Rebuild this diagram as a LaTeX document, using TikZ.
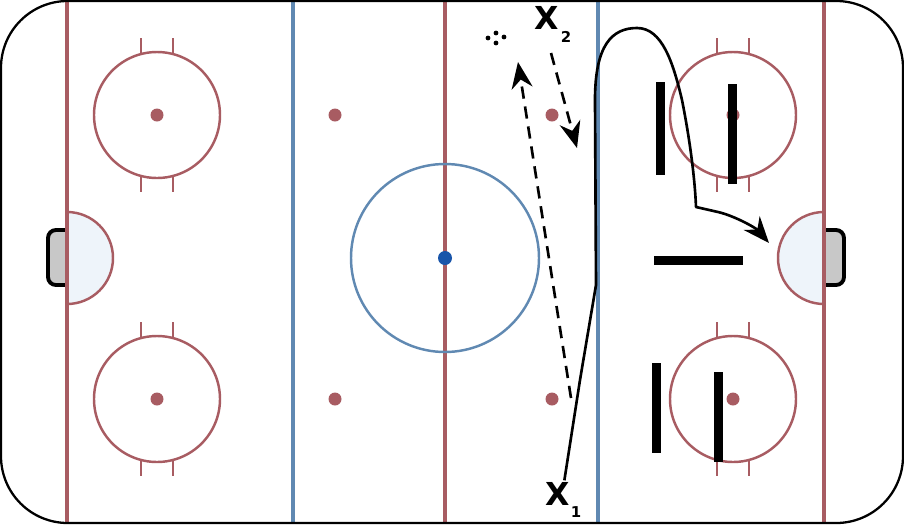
\documentclass[tikz,border=0pt]{standalone}
\usepackage{fontspec}
\newfontfamily\markfont{DejaVu Sans}
\usetikzlibrary{arrows.meta}

\definecolor{rinkred}{RGB}{168,92,98}
\definecolor{rinkblue}{RGB}{96,137,178}
\definecolor{dotblue}{RGB}{25,85,170}
\definecolor{creasefill}{RGB}{238,244,250}
\definecolor{netgray}{RGB}{200,200,200}

\tikzset{
  redline/.style={draw=rinkred, line width=2.3pt},
  blueline/.style={draw=rinkblue, line width=2.3pt},
  faceoff/.style={draw=rinkred, line width=1.4pt},
  crease/.style={draw=rinkred, line width=1.4pt, fill=creasefill},
  net/.style={draw=black, line width=2.2pt, fill=netgray, rounded corners=4.5pt},
  bar/.style={fill=black},
  player/.style={font=\markfont\bfseries\fontsize{18}{19}\selectfont, inner sep=1pt},
  num/.style={font=\markfont\bfseries\fontsize{8.5}{9}\selectfont, inner sep=0pt},
  pass/.style={line width=1.5pt, dash pattern=on 7pt off 4.5pt, -{Stealth[length=15pt,width=12pt]}},
  skate/.style={line width=1.5pt, line join=round, -{Stealth[length=15pt,width=12pt]}}
}

\begin{document}
\begin{tikzpicture}[x=0.02cm, y=-0.02cm]
  \useasboundingbox (0,0) rectangle (904,525);

  % Goal creases and nets
  \filldraw[crease] (67,212) arc[start angle=-90, end angle=90, radius=46] -- cycle;
  \filldraw[crease] (824,304) arc[start angle=90, end angle=270, radius=46] -- cycle;
  \filldraw[net] (67,230) -- (48,230) -- (48,285) -- (67,285);
  \filldraw[net] (824,230) -- (844,230) -- (844,285) -- (824,285);

  % Rink lines
  \begin{scope}
    \clip[rounded corners=38pt] (1,1) rectangle (903,523);
    \draw[redline] (67,0) -- (67,525);
    \draw[redline] (824,0) -- (824,525);
    \draw[redline] (445,0) -- (445,525);
    \draw[blueline] (293,0) -- (293,525);
    \draw[blueline] (598,0) -- (598,525);
  \end{scope}

  % Center circle
  \draw[blueline, line width=1.4pt] (445,258) circle[radius=94];
  \fill[dotblue] (445,258) circle[radius=7];

  % Faceoff circles
  \foreach \cx/\cy in {157/115, 157/399, 733/115, 733/399}{
    \draw[faceoff] (\cx,\cy) circle[radius=63];
    \draw[faceoff] (\cx-16,\cy-61) -- (\cx-16,\cy-77) (\cx+16,\cy-61) -- (\cx+16,\cy-77);
    \draw[faceoff] (\cx-16,\cy+61) -- (\cx-16,\cy+77) (\cx+16,\cy+61) -- (\cx+16,\cy+77);
    \fill[rinkred] (\cx,\cy) circle[radius=6.5];
  }

  % Neutral zone spots
  \foreach \cx/\cy in {335/115, 552/115, 335/399, 552/399}
    \fill[rinkred] (\cx,\cy) circle[radius=6.5];

  % Rink outline
  \draw[line width=1.3pt, rounded corners=38pt] (1,1) rectangle (903,523);

  % Obstacles
  \fill[bar] (656,82) rectangle (665,175);
  \fill[bar] (728,84) rectangle (737,184);
  \fill[bar] (654,256) rectangle (743,265);
  \fill[bar] (652,363) rectangle (661,453);
  \fill[bar] (714,372) rectangle (723,462);

  % Players and puck
  \node[player] (x2) at (547,18) {X};
  \node[num] (x2n) at (566,37) {2};
  \node[player] (x1) at (558,494) {X};
  \node[num] (x1n) at (576,512) {1};
  \foreach \px/\py in {488/38, 496/33, 496/43, 504/37}
    \fill (\px,\py) circle[radius=2.4];

  % Passes
  \coordinate (pa) at (571,398);
  \coordinate (pb) at (518,62);
  \coordinate (pc) at (551,53);
  \coordinate (pd) at (577,148);
  \draw[pass] (pa) -- (pb);
  \draw[pass] (pc) -- (pd);

  % Skating route
  \coordinate (net2) at (769,243);
  \draw[skate] (x1.65) -- (580,380) -- (596,285) -- (595,100)
    .. controls (595,45) and (612,28) .. (637,28)
    .. controls (662,28) and (673,62) .. (682,100)
    .. controls (690,140) and (695,180) .. (696,207)
    -- (718,212) .. controls (735,216) and (756,228) .. (net2);
\end{tikzpicture}
\end{document}
